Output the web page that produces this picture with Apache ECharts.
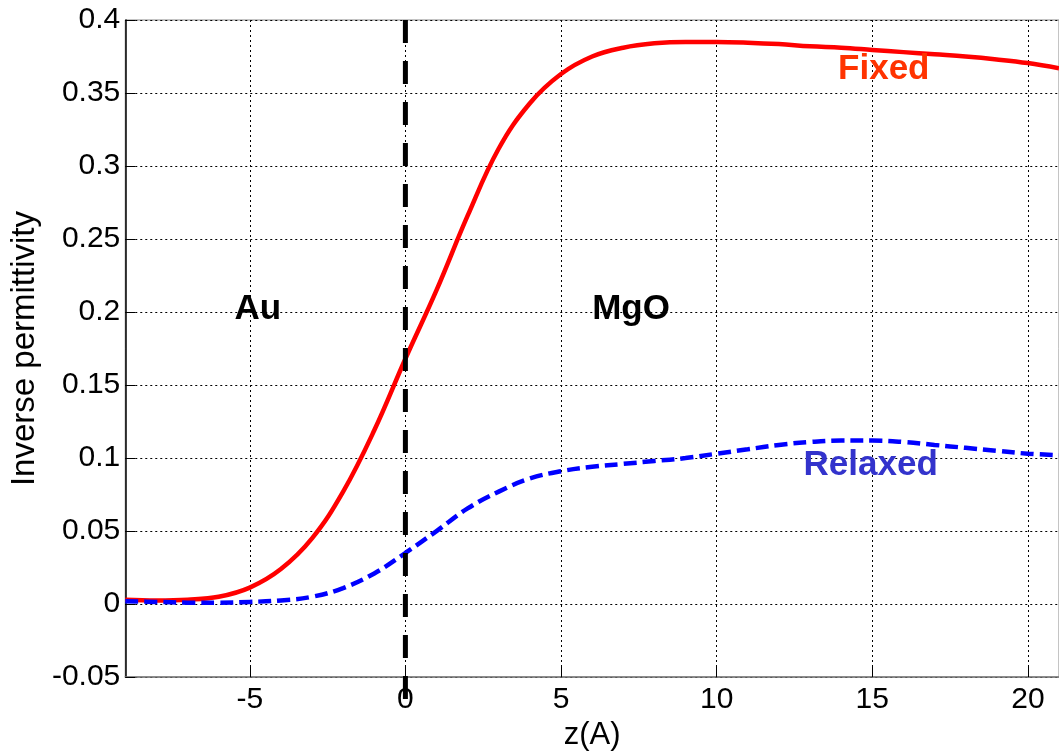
<!DOCTYPE html>
<html>
<head>
<meta charset="utf-8">
<script src="https://cdn.jsdelivr.net/npm/echarts@6/dist/echarts.min.js"></script>
<style>html,body{margin:0;padding:0;background:#fff;overflow:hidden}#c{width:1059px;height:756px}</style>
</head>
<body>
<div id="c"></div>
<script>
const zValues = [-9,-8,-7,-6,-5,-4,-3,-2,-1,0,1,2,3,4,5,6,7,8,9,10,11,12,13,14,15,16,17,18,19,20,21];
const fixedValues = [0.003,0.0025,0.003,0.005,0.0113,0.024,0.045,0.077,0.119,0.168,0.215,0.266,0.312,0.343,0.363,0.375,0.381,0.384,0.385,0.385,0.3845,0.3835,0.382,0.381,0.3795,0.378,0.3765,0.375,0.373,0.3705,0.367];
const relaxedValues = [0.002,0.0015,0.001,0.001,0.0015,0.0025,0.005,0.011,0.021,0.035,0.050,0.0655,0.077,0.086,0.091,0.094,0.096,0.098,0.100,0.103,0.106,0.109,0.111,0.112,0.112,0.111,0.109,0.107,0.105,0.103,0.102];
const xTicks = [-5,0,5,10,15,20];
const interfaceLine = [[0,-0.065],[0,0.4]];
const regionLabels = [
  {text:'Au', z:-4.74, v:0.202, color:'#000000'},
  {text:'MgO', z:7.25, v:0.202, color:'#000000'},
  {text:'Fixed', z:15.37, v:0.366, color:'#ff3300'},
  {text:'Relaxed', z:14.95, v:0.095, color:'#3333cc'}
];

const FONT = 'Liberation Sans, Arial, sans-serif';
const chart = echarts.init(document.getElementById('c'));
const pair = (vals) => zValues.map((z,i)=>[z, vals[i]]);

chart.setOption({
  backgroundColor:'#ffffff',
  animation:false,
  grid:{left:125, top:20, width:943, height:665, show:true, borderColor:'#888888', borderWidth:1},
  xAxis:{
    type:'value', min:-9, max:21,
    name:'z(A)', nameLocation:'middle', nameGap:42,
    nameTextStyle:{fontFamily:FONT, fontSize:31, color:'#000'},
    axisLine:{show:true, onZero:false, lineStyle:{color:'#777777', width:1.5}},
    axisTick:{show:true, inside:true, length:12, customValues:xTicks, lineStyle:{color:'#000', width:1}},
    axisLabel:{customValues:xTicks, fontFamily:FONT, fontSize:30, color:'#000', margin:8},
    splitLine:{show:true, lineStyle:{color:'#000', type:[2,3], width:1}}
  },
  yAxis:{
    type:'value', min:-0.05, max:0.4, interval:0.05,
    name:'Inverse permittivity', nameLocation:'middle', nameGap:80,
    nameTextStyle:{fontFamily:FONT, fontSize:33, color:'#000'},
    axisLine:{show:true, onZero:false, lineStyle:{color:'#000', width:1.5}},
    axisTick:{show:true, inside:true, length:10, lineStyle:{color:'#000'}},
    axisLabel:{fontFamily:FONT, fontSize:30, color:'#000', margin:5,
      formatter:(v)=>String(Math.round(v*100)/100)},
    splitLine:{show:true, lineStyle:{color:'#000', type:[2,3], width:1}}
  },
  series:[
    {
      name:'Fixed', type:'line', data:pair(fixedValues), smooth:0.4, showSymbol:false,
      lineStyle:{color:'#ff0000', width:4.5}, z:3
    },
    {
      name:'Relaxed', type:'line', data:pair(relaxedValues), smooth:0.4, showSymbol:false,
      lineStyle:{color:'#0000ff', width:4.5, type:[13,6]}, z:3,
      markPoint:{
        silent:true, symbol:'circle', symbolSize:1, itemStyle:{color:'rgba(0,0,0,0)'},
        data: regionLabels.map(l=>({coord:[l.z,l.v], value:l.text,
          label:{show:true, position:'inside', formatter:l.text, color:l.color,
            fontFamily:FONT, fontWeight:'bold', fontSize:35}}))
      }
    },
    {
      name:'Interface', type:'line', data:interfaceLine, clip:false, showSymbol:false,
      silent:true, lineStyle:{color:'#000', width:5, type:[23,18]}, z:4
    }
  ]
});
</script>
</body>
</html>
